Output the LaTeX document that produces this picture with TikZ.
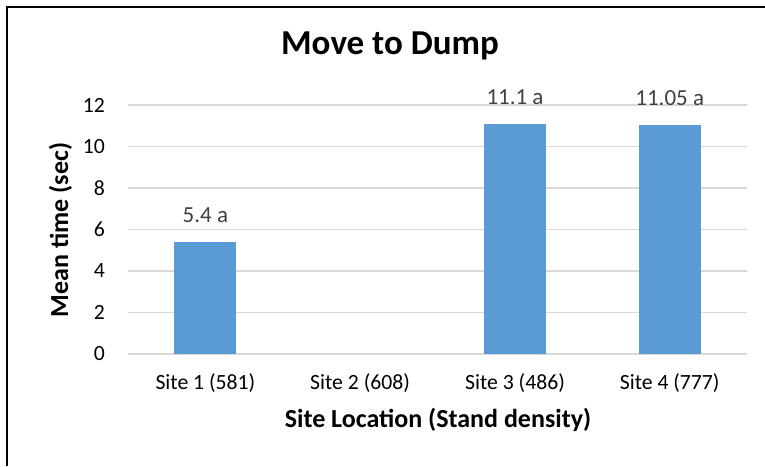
\documentclass[tikz,border=0pt]{standalone}
\usepackage{fontspec}
\setmainfont{Carlito}
\usepackage{xcolor}
\usepackage{tikz}

\definecolor{barblue}{HTML}{5B9BD5}
\definecolor{gridgray}{HTML}{D9D9D9}
\definecolor{labelgray}{HTML}{404040}

\begin{document}
\begin{tikzpicture}[
                x=1pt, y=1pt,
                every node/.style={align=center, inner sep=0pt},
                title node/.style={font=\fontsize{35}{40}\bfseries\selectfont, anchor=base},
                axis title/.style={font=\fontsize{26}{30}\bfseries\selectfont, anchor=base},
                tick label/.style={font=\fontsize{21.7}{26}\selectfont},
                value label/.style={font=\fontsize{23}{28}\selectfont, text=labelgray, anchor=base},
                grid line/.style={draw=gridgray, line width=1.5pt},
                bar/.style={fill=barblue}
            ]

            \useasboundingbox (0,0) rectangle (765,466);

            % Frame
            \draw[line width=2pt] (7,0) -- (7,459) -- (765,459);

            % Title
            \node[title node] (title) at (390,411) {Move to Dump};

            % Grid and y ticks
            \foreach \v in {0,2,...,12} {
                \draw[grid line] (128,112+\v*20.75) -- (747,112+\v*20.75);
                \node[tick label, anchor=east] (ytick\v) at (105,112+\v*20.75) {\v};
            }

            % Bars
            \fill[bar] (174.4,112) rectangle (236.4,{112+5.4*20.75});
            \fill[bar] (484.0,112) rectangle (546.0,{112+11.1*20.75});
            \fill[bar] (638.7,112) rectangle (700.7,{112+11.05*20.75});

            % Values
            \node[value label] (val1) at (205.4,{131+5.4*20.75}) {5.4 a};
            \node[value label] (val3) at (515.0,{131+11.1*20.75}) {11.1 a};
            \node[value label] (val4) at (669.7,{131+11.05*20.75}) {11.05 a};

            % Categories
            \node[tick label, anchor=base] (site1) at (205.4,77) {Site 1 (581)};
            \node[tick label, anchor=base] (site2) at (360.1,77) {Site 2 (608)};
            \node[tick label, anchor=base] (site3) at (515.0,77) {Site 3 (486)};
            \node[tick label, anchor=base] (site4) at (669.7,77) {Site 4 (777)};

            % Axis titles
            \node[axis title] (xtitle) at (438,39) {Site Location (Stand density)};
            \node[axis title, rotate=90] (ytitle) at (68,236) {Mean time (sec)};

            \end{tikzpicture}
\end{document}
